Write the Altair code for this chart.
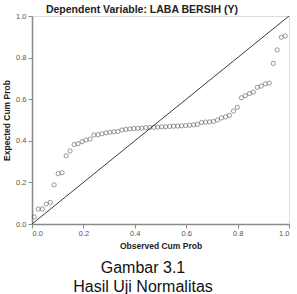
import altair as alt
import pandas as pd

# Observed vs. expected cumulative probabilities of the standardized residuals
observed = [0.009, 0.024, 0.040, 0.055, 0.071, 0.086, 0.102, 0.117, 0.133, 0.148,
            0.164, 0.179, 0.195, 0.210, 0.226, 0.241, 0.257, 0.272, 0.288, 0.303,
            0.319, 0.334, 0.350, 0.365, 0.381, 0.396, 0.412, 0.427, 0.443, 0.458,
            0.474, 0.489, 0.505, 0.520, 0.536, 0.551, 0.567, 0.582, 0.598, 0.613,
            0.629, 0.644, 0.660, 0.675, 0.691, 0.706, 0.722, 0.737, 0.753, 0.768,
            0.784, 0.799, 0.815, 0.830, 0.846, 0.861, 0.877, 0.892, 0.908, 0.923,
            0.939, 0.954, 0.970, 0.985]
expected = [0.034, 0.072, 0.072, 0.096, 0.104, 0.188, 0.242, 0.247, 0.328, 0.351,
            0.382, 0.386, 0.396, 0.404, 0.408, 0.428, 0.429, 0.434, 0.438, 0.441,
            0.443, 0.445, 0.452, 0.455, 0.457, 0.459, 0.460, 0.461, 0.463, 0.464,
            0.465, 0.466, 0.467, 0.468, 0.469, 0.470, 0.471, 0.472, 0.473, 0.475,
            0.477, 0.479, 0.488, 0.490, 0.491, 0.493, 0.500, 0.510, 0.515, 0.522,
            0.543, 0.561, 0.607, 0.617, 0.627, 0.634, 0.657, 0.663, 0.674, 0.677,
            0.772, 0.837, 0.898, 0.904]

# Reference diagonal
diag_x = [0.0, 1.0]
diag_y = [0.0, 1.0]

axis_ticks = [0.0, 0.2, 0.4, 0.6, 0.8, 1.0]

points_df = pd.DataFrame({"obs": observed, "exp": expected})
diag_df = pd.DataFrame({"obs": diag_x, "exp": diag_y})

x_scale = alt.Scale(domain=[0, 1], nice=False, zero=False)
y_scale = alt.Scale(domain=[0, 1], nice=False, zero=False)

x_axis = alt.Axis(
    title="Observed Cum Prob", values=axis_ticks, format=".1f",
    grid=False, domainColor="#8a8a8a", domainWidth=1.5,
    tickColor="#8a8a8a", tickSize=4, labelFontSize=7.5, labelColor="#555555",
    labelFont="Liberation Sans", labelPadding=1,
    titleFont="Liberation Sans", titleFontSize=8.5, titleFontWeight="bold",
    titleColor="#222222", titlePadding=5,
)
y_axis = alt.Axis(
    title="Expected Cum Prob", values=axis_ticks, format=".1f",
    grid=False, domainColor="#8a8a8a", domainWidth=1.5,
    tickColor="#8a8a8a", tickSize=4, labelFontSize=7.5, labelColor="#555555",
    labelFont="Liberation Sans", labelPadding=2,
    titleFont="Liberation Sans", titleFontSize=8.5, titleFontWeight="bold",
    titleColor="#222222", titlePadding=4,
)

line = alt.Chart(diag_df).mark_line(color="#3a3a3a", strokeWidth=1, clip=True).encode(
    x=alt.X("obs:Q", scale=x_scale, axis=x_axis),
    y=alt.Y("exp:Q", scale=y_scale, axis=y_axis),
)

pts = alt.Chart(points_df).mark_point(
    shape="circle", filled=False, color="#4a4a4a", size=18, strokeWidth=0.8
).encode(
    x=alt.X("obs:Q", scale=x_scale),
    y=alt.Y("exp:Q", scale=y_scale),
)

# Chart heading above the plot
heading_df = pd.DataFrame({"t": ["Dependent Variable: LABA BERSIH (Y)"]})
heading = alt.Chart(heading_df).mark_text(
    font="Liberation Sans", fontSize=10.5, fontWeight="bold", color="#222222",
    align="center", baseline="middle"
).encode(text="t:N", x=alt.value(110), y=alt.value(-6))

# Figure caption below the plot
caption_df = pd.DataFrame({"t": ["Gambar 3.1"]})
caption1 = alt.Chart(caption_df).mark_text(
    font="Liberation Sans", fontSize=16, color="#111111", align="center", baseline="alphabetic"
).encode(text="t:N", x=alt.value(111), y=alt.value(257))

caption2_df = pd.DataFrame({"t": ["Hasil Uji Normalitas"]})
caption2 = alt.Chart(caption2_df).mark_text(
    font="Liberation Sans", fontSize=16, color="#111111", align="center", baseline="alphabetic"
).encode(text="t:N", x=alt.value(111), y=alt.value(275.5))

chart = alt.layer(line, pts, heading, caption1, caption2).properties(
    width=257, height=208,
    autosize=alt.AutoSizeParams(type="none"),
    padding={"left": 32, "top": 16, "right": 8, "bottom": 70},
).configure_view(
    fill="#f0f0f0", stroke="#9a9a9a", strokeWidth=1
).configure(background="white")

chart.save("out.html", embed_options={"renderer": "svg", "actions": False})
